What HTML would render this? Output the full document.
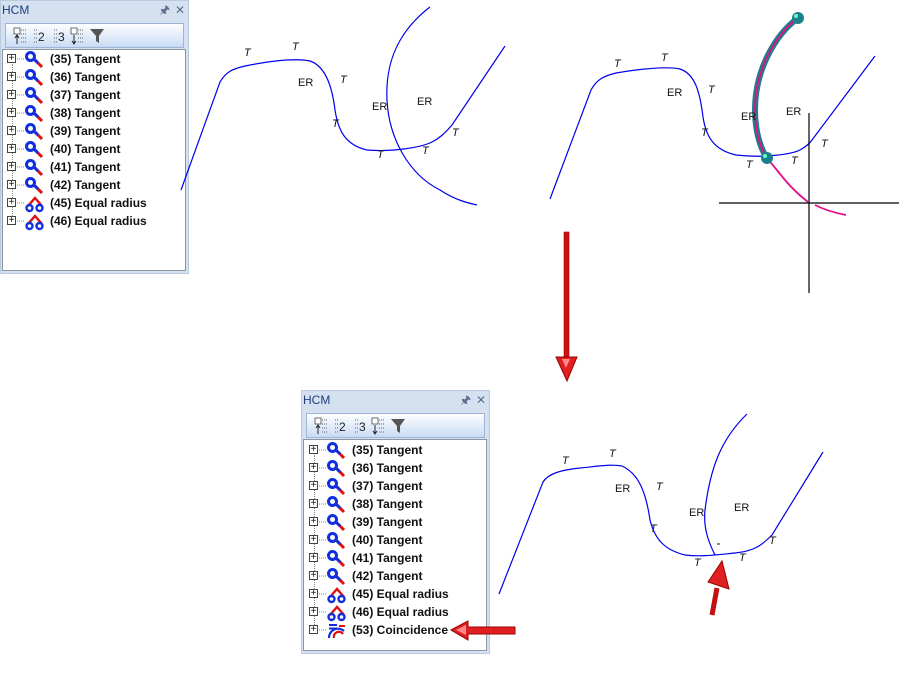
<!DOCTYPE html>
<html><head><meta charset="utf-8"><style>
body{margin:0;width:899px;height:675px;background:#fff;position:relative;overflow:hidden;font-family:"Liberation Sans",sans-serif}
.pan{position:absolute;width:189px;background:#d5e1f0;border:1px solid #b9c9de;box-sizing:border-box}
.tt{height:20px;line-height:18px;font-size:12px;color:#1e3f7a;padding-left:1px;position:relative}
.tt span{position:absolute;top:0;font-size:12px;color:#5a6f90}
.tb{position:absolute;left:4px;right:4px;top:22px;height:25px;background:linear-gradient(#fdfeff,#c9dcf5);border:1px solid #9fb5d5;box-sizing:border-box;font-size:12px}
.lst{position:absolute;left:1px;right:2px;top:48px;bottom:2px;background:#fff;border:1px solid #8c96a3}
.r{position:absolute;left:7px;height:18px;font-size:12px;font-weight:bold;color:#111;white-space:nowrap}
.r .pl{position:absolute;left:0;top:3px;width:9px;height:9px;border:1px solid #444;box-sizing:border-box;font-size:10px;line-height:7px;text-align:center;font-weight:normal;background:#fff}
.r svg{position:absolute;left:10px;top:-1px}
.r b{position:absolute;left:42px;top:1px}
.vl{position:absolute;width:0;border-left:1px dotted #888}
</style></head><body>

<div class="pan" style="left:0;top:0;height:274px">
 <div class="tt">HCM<span style="left:158px">&#x1F588;</span><span style="left:174px">✕</span></div>
 <div class="tb"><svg width="110" height="23"><g font-family="Liberation Sans" font-size="12" fill="#222">
  <rect x="8" y="4" width="6" height="6" fill="#fff" stroke="#333" stroke-width=".7"/><path d="M11 11v9M9 14l2-3 2 3" stroke="#222" fill="none"/><path d="M15 6h5M15 10h5M15 14h5M15 18h5" stroke="#666" stroke-dasharray="1 1"/>
  <path d="M28 6h3M28 10h3M28 14h3M28 18h3" stroke="#666" stroke-dasharray="1 1"/><text x="32" y="17">2</text>
  <path d="M48 6h3M48 10h3M48 14h3M48 18h3" stroke="#666" stroke-dasharray="1 1"/><text x="52" y="17">3</text>
  <rect x="65" y="4" width="6" height="6" fill="#fff" stroke="#333" stroke-width=".7"/><path d="M68 11v9M66 17l2 3 2-3" stroke="#222" fill="none"/><path d="M72 6h5M72 10h5M72 14h5M72 18h5" stroke="#666" stroke-dasharray="1 1"/>
  <path d="M84 5h14l-5 7v7l-3-2v-5z" fill="#555"/></g></svg></div>
 <div class="lst"></div>
</div>

<div class="pan" style="left:301px;top:390px;height:264px">
 <div class="tt">HCM<span style="left:158px">&#x1F588;</span><span style="left:174px">✕</span></div>
 <div class="tb"><svg width="110" height="23"><g font-family="Liberation Sans" font-size="12" fill="#222">
  <rect x="8" y="4" width="6" height="6" fill="#fff" stroke="#333" stroke-width=".7"/><path d="M11 11v9M9 14l2-3 2 3" stroke="#222" fill="none"/><path d="M15 6h5M15 10h5M15 14h5M15 18h5" stroke="#666" stroke-dasharray="1 1"/>
  <path d="M28 6h3M28 10h3M28 14h3M28 18h3" stroke="#666" stroke-dasharray="1 1"/><text x="32" y="17">2</text>
  <path d="M48 6h3M48 10h3M48 14h3M48 18h3" stroke="#666" stroke-dasharray="1 1"/><text x="52" y="17">3</text>
  <rect x="65" y="4" width="6" height="6" fill="#fff" stroke="#333" stroke-width=".7"/><path d="M68 11v9M66 17l2 3 2-3" stroke="#222" fill="none"/><path d="M72 6h5M72 10h5M72 14h5M72 18h5" stroke="#666" stroke-dasharray="1 1"/>
  <path d="M84 5h14l-5 7v7l-3-2v-5z" fill="#555"/></g></svg></div>
 <div class="lst"></div>
</div>

<div class="vl" style="left:12px;top:64px;height:154px"></div>
<div class="vl" style="left:314px;top:455px;height:172px"></div>

<svg width="899" height="675" style="position:absolute;left:0;top:0" font-family="Liberation Sans" font-size="11" font-style="italic" fill="#111">
<defs>
 <g id="tan"><circle cx="5.5" cy="6.5" r="4" fill="none" stroke="#1030e0" stroke-width="3"/><path d="M9 9l8 8" stroke="#e01010" stroke-width="3"/><path d="M9 9l4 4" stroke="#1030e0" stroke-width="3"/></g>
 <g id="eq"><path d="M3 12l7-8 7 8" stroke="#e01010" stroke-width="2.4" fill="none"/><circle cx="4.5" cy="14" r="3" fill="none" stroke="#1030e0" stroke-width="2.4"/><circle cx="14.5" cy="14" r="3" fill="none" stroke="#1030e0" stroke-width="2.4"/></g>
 <g id="co"><path d="M2 4h8M2 7.5h8" stroke="#1030e0" stroke-width="2"/><path d="M12 5h6" stroke="#e01010" stroke-width="2"/><path d="M2 17a9 9 0 0 1 15-7" stroke="#1030e0" stroke-width="2.2" fill="none"/><path d="M7 17a5 5 0 0 1 9-4" stroke="#e01010" stroke-width="2.2" fill="none"/></g>
</defs>

<g fill="none" stroke="#0000ee" stroke-width="1.2">
 <path d="M181 190L220 82C226 72 232 69 245 66C270 61 295 58 310 61C325 66 332 85 335 110C338 130 345 145 367 150C390 152 420 148 432 142C440 138 445 133 452 125L505 46"/>
 <path d="M430 7C400 30 385 60 387 100C389 140 410 175 440 190C455 200 468 203 477 205"/>
 <path d="M550 199L591 90C597 79 604 76 616 73C640 69 665 66 680 69C695 74 700 92 703 117C706 137 714 150 736 155C760 158 790 155 800 150C807 146 810 143 812 140L875 56"/>
 <path d="M499 594L543 482C548 474 560 470 580 468C600 466 612 464 622 466C635 472 645 485 650 520C655 540 665 550 685 555C700 557 715 555 735 553C755 551 762 545 772 535L823 452"/>
 <path d="M747 414C720 440 710 470 705 510C703 530 710 545 715 555"/>
</g>
<path d="M719 203H899M809 113V293" stroke="#000" stroke-width="1.2"/>
<path d="M798 18C775 35 755 70 755 110C755 130 760 148 767 158" stroke="#1d7f8a" stroke-width="6" fill="none"/>
<path d="M798 18C775 35 755 70 755 110C755 130 760 148 767 158L785 180C795 192 803 198 808 202" stroke="#e0108a" stroke-width="1.8" fill="none"/>
<path d="M815 205C825 210 835 213 846 215" stroke="#e0108a" stroke-width="1.8" fill="none"/>
<circle cx="798" cy="18" r="6" fill="#1d7f8a"/><circle cx="796" cy="16" r="2" fill="#6fc"/>
<circle cx="767" cy="158" r="6" fill="#1d7f8a"/><circle cx="765" cy="156" r="2" fill="#6fc"/>

<text x="244" y="56">T</text><text x="292" y="50">T</text><text x="298" y="86" font-style="normal">ER</text><text x="340" y="83">T</text>
<text x="332" y="127">T</text><text x="372" y="110" font-style="normal">ER</text><text x="417" y="105" font-style="normal">ER</text>
<text x="377" y="158">T</text><text x="422" y="154">T</text><text x="452" y="136">T</text>
<text x="614" y="67">T</text><text x="661" y="61">T</text><text x="667" y="96" font-style="normal">ER</text><text x="708" y="93">T</text>
<text x="701" y="136">T</text><text x="741" y="120" font-style="normal">ER</text><text x="786" y="115" font-style="normal">ER</text>
<text x="746" y="168">T</text><text x="791" y="164">T</text><text x="821" y="147">T</text>
<text x="562" y="464">T</text><text x="609" y="457">T</text><text x="615" y="492" font-style="normal">ER</text><text x="656" y="490">T</text>
<text x="650" y="532">T</text><text x="689" y="516" font-style="normal">ER</text><text x="734" y="511" font-style="normal">ER</text>
<text x="694" y="566">T</text><text x="739" y="561">T</text><text x="769" y="544">T</text>
<path d="M717 544h3" stroke="#111"/>

<g>
 <rect x="564" y="232" width="5" height="126" fill="#d01010" stroke="#900" stroke-width=".6"/>
 <path d="M556 357h21l-10 24z" fill="#e02020" stroke="#900"/>
 <path d="M562 359h8l-4 9z" fill="#f88"/>
 <path d="M712 615L717 588" stroke="#c01010" stroke-width="5"/>
 <path d="M708 582L722 561L729 589z" fill="#e02020" stroke="#900"/>
 <path d="M451 630L468 621V627H515V634H468V640z" fill="#e02020" stroke="#900"/>
 <path d="M456 630l10-5v10z" fill="#f88"/>
</g>
</svg>

<script>
var items=["(35) Tangent","(36) Tangent","(37) Tangent","(38) Tangent","(39) Tangent","(40) Tangent","(41) Tangent","(42) Tangent","(45)  Equal radius","(46)  Equal radius"];
function build(x0,y0,extra){
 var h="";var list=items.slice();if(extra)list.push("(53) Coincidence");
 for(var i=0;i<list.length;i++){
  var y=y0+i*18;var t=list[i];
  var ic=t.indexOf("Tangent")>0?"tan":(t.indexOf("Equal")>0?"eq":"co");
  h+='<div class="r" style="left:'+(x0+7)+'px;top:'+y+'px"><div class="pl">+</div>'+
  '<svg width="32" height="20"><path d="M0 9h7" stroke="#888" stroke-dasharray="1 1"/><g transform="translate(8,0)"><use href="#'+ic+'"/></g></svg>'+
  '<b style="left:43px">'+t+'</b></div>';
 }
 return h;
}
</script>
<div style="position:absolute;left:0;top:0">
<script>document.write(build(0,51,false)+build(302,442,true));</script>
</div>
</body></html>
